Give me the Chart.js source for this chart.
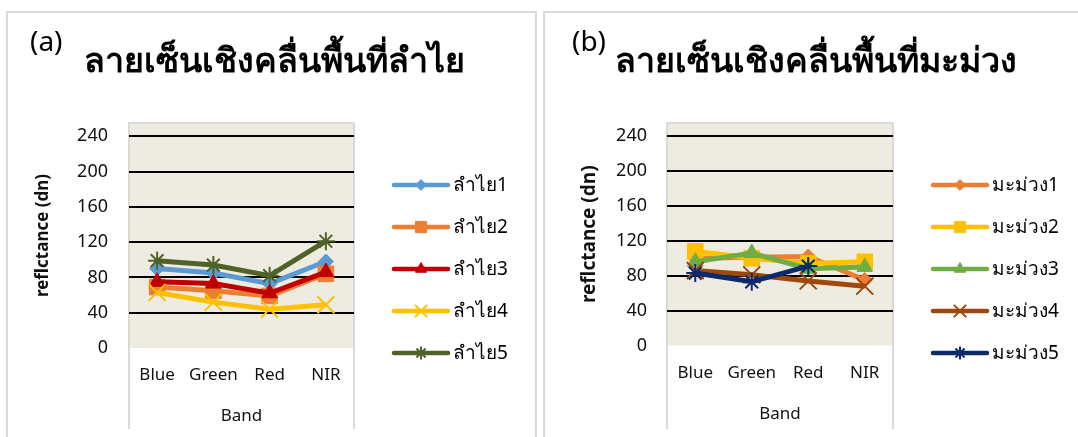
<!DOCTYPE html>
<html lang="th">
<head>
<meta charset="UTF-8">
<title>ลายเซ็นเชิงคลื่นพื้นที่ลำไย / มะม่วง</title>
<style>
  body { margin: 0; width: 1078px; height: 437px; overflow: hidden; background: #fff; position: relative;
         font-family: "Noto Sans", sans-serif; color: #000; }
  .panel { position: absolute; top: 11px; border: 2px solid #d9d9d9; background: #fff; }
  #panelA { left: 6px; width: 527px; height: 440px; }
  #panelB { left: 543px; width: 540px; height: 440px; }
  .tag { position: absolute; font-size: 28px; line-height: 1; }
  .head { position: absolute; font-size: 34px; font-weight: bold; line-height: 1; white-space: nowrap; }
  canvas { position: absolute; top: 0; }
  #chartA { left: 0; }
  #chartB { left: 540px; }
</style>
</head>
<body>
  <div class="panel" id="panelA"></div>
  <div class="panel" id="panelB"></div>

  <canvas id="chartA" width="540" height="437"></canvas>
  <canvas id="chartB" width="538" height="437"></canvas>

  <div class="tag" style="left:30px; top:26px;">(a)</div>
  <div class="head" style="left:84px; top:42px;">ลายเซ็นเชิงคลื่นพื้นที่ลำไย</div>
  <div class="tag" style="left:572px; top:26px;">(b)</div>
  <div class="head" style="left:615px; top:42px;">ลายเซ็นเชิงคลื่นพื้นที่มะม่วง</div>

  <script src="https://cdn.jsdelivr.net/npm/chart.js@4/dist/chart.umd.min.js"></script>
  <script>
    // band categories and mean reflectance (DN) per sample plot
    const bands = ['Blue', 'Green', 'Red', 'NIR'];

    const longan1 = [90, 85, 73, 98];
    const longan2 = [69, 65, 59, 84];
    const longan3 = [75, 73, 62, 86];
    const longan4 = [63, 52, 44, 49];
    const longan5 = [99, 94, 82, 121];

    const mango1 = [100, 101, 102, 75];
    const mango2 = [108, 100, 94, 96];
    const mango3 = [96, 106, 88, 90];
    const mango4 = [86, 81, 74, 68];
    const mango5 = [83, 73, 91, null];

    const longanLabels = ['ลำไย1', 'ลำไย2', 'ลำไย3', 'ลำไย4', 'ลำไย5'];
    const mangoLabels = ['มะม่วง1', 'มะม่วง2', 'มะม่วง3', 'มะม่วง4', 'มะม่วง5'];

    const yMax = 255;
    const yStep = 40;

    // marker look per series slot: diamond, square, triangle, x, asterisk
    const markers = [
      { style: 'rectRot', radius: 7.5, bw: 1 },
      { style: 'rect', radius: 11, bw: 1 },
      { style: 'triangle', radius: 9, bw: 1 },
      { style: 'crossRot', radius: 12, bw: 2 },
      { style: 'star', radius: 9, bw: 2 }
    ];

    function series(label, data, color, i) {
      const m = markers[i];
      return {
        label: label,
        data: data,
        borderColor: color,
        backgroundColor: color,
        pointBackgroundColor: color,
        pointBorderColor: color,
        pointStyle: m.style,
        pointRadius: m.radius,
        pointHoverRadius: m.radius,
        pointBorderWidth: m.bw,
        borderWidth: 5,
        tension: 0,
        order: 4 - i
      };
    }

    // beige plot area with the light grey frame running down past the band labels
    const plotFrame = {
      id: 'plotFrame',
      beforeDraw(chart, args, opts) {
        const { ctx, chartArea: a } = chart;
        ctx.save();
        ctx.fillStyle = '#EEECE1';
        ctx.fillRect(a.left, a.top, a.right - a.left, a.bottom - a.top);
        ctx.strokeStyle = '#D9D9D9';
        ctx.lineWidth = 2;
        ctx.beginPath();
        ctx.moveTo(a.left, opts.bottom);
        ctx.lineTo(a.left, a.top);
        ctx.lineTo(a.right, a.top);
        ctx.lineTo(a.right, opts.bottom);
        ctx.stroke();
        ctx.restore();
      }
    };

    // legend: short line with the marker in its middle, one row per series
    const sideLegend = {
      id: 'sideLegend',
      afterDraw(chart) {
        const { ctx, chartArea: a } = chart;
        chart.data.datasets.forEach((ds, i) => {
          const y = a.top + 62 + i * 42;
          const x0 = a.right + 40, x1 = a.right + 94;
          ctx.save();
          ctx.strokeStyle = ds.borderColor;
          ctx.lineWidth = 4.5;
          ctx.lineCap = 'round';
          ctx.beginPath();
          ctx.moveTo(x0, y);
          ctx.lineTo(x1, y);
          ctx.stroke();
          ctx.fillStyle = ds.pointBackgroundColor;
          ctx.lineWidth = ds.pointBorderWidth;
          ctx.lineCap = 'butt';
          Chart.helpers.drawPoint(ctx, {
            pointStyle: ds.pointStyle,
            radius: ds.pointRadius * 0.72,
            rotation: 0,
            borderWidth: ds.pointBorderWidth
          }, (x0 + x1) / 2, y);
          ctx.fillStyle = '#000';
          ctx.font = '19px "Noto Sans", sans-serif';
          ctx.textBaseline = 'middle';
          ctx.textAlign = 'left';
          ctx.fillText(ds.label, a.right + 99, y + 1);
          ctx.restore();
        });
      }
    };

    function makeChart(id, datasets, lay) {
      return new Chart(document.getElementById(id), {
        type: 'line',
        data: { labels: bands, datasets: datasets },
        plugins: [plotFrame, sideLegend],
        options: {
          responsive: false,
          animation: false,
          events: [],
          layout: { padding: { top: 123, left: lay.left, right: lay.right, bottom: lay.bottom } },
          plugins: {
            legend: { display: false },
            tooltip: { enabled: false },
            plotFrame: { bottom: 429 }
          },
          scales: {
            x: {
              offset: true,
              grid: { display: false, drawTicks: false },
              border: { display: false },
              ticks: { color: '#111', padding: 17, font: { size: 17, family: '"Noto Sans", sans-serif' } },
              title: { display: true, text: 'Band', color: '#111', font: { size: 17, family: '"Noto Sans", sans-serif' } },
              afterFit(scale) { scale.height = lay.xHeight; }
            },
            y: {
              min: 0,
              max: yMax,
              grid: {
                drawTicks: false,
                lineWidth: 2,
                color: (c) => (c.tick && c.tick.value === 0) ? 'rgba(0,0,0,0)' : '#000'
              },
              border: { display: false },
              ticks: {
                stepSize: yStep,
                includeBounds: false,
                color: '#111',
                padding: lay.tickPad,
                font: { size: 18, family: '"Noto Sans", sans-serif' }
              },
              title: {
                display: true,
                text: 'reflctance (dn)',
                color: '#111',
                font: { size: lay.titleSize, weight: 'bold', family: '"Noto Sans", sans-serif' }
              },
              afterFit(scale) { scale.width = lay.yWidth; }
            }
          }
        }
      });
    }

    const longanColors = ['#5B9BD5', '#ED7D31', '#C00000', '#FFC000', '#4F6228'];
    const mangoColors = ['#ED7D31', '#FFC000', '#70AD47', '#9E480E', '#0B2A6B'];

    const longanData = [longan1, longan2, longan3, longan4, longan5];
    const mangoData = [mango1, mango2, mango3, mango4, mango5];

    makeChart('chartA',
      longanData.map((d, i) => series(longanLabels[i], d, longanColors[i], i)),
      { left: 29, yWidth: 100, right: 186, bottom: 7, xHeight: 82, tickPad: 21, titleSize: 17 });

    makeChart('chartB',
      mangoData.map((d, i) => series(mangoLabels[i], d, mangoColors[i], i)),
      { left: 34, yWidth: 93, right: 185, bottom: 9, xHeight: 82.5, tickPad: 20, titleSize: 19 });
  </script>
</body>
</html>
